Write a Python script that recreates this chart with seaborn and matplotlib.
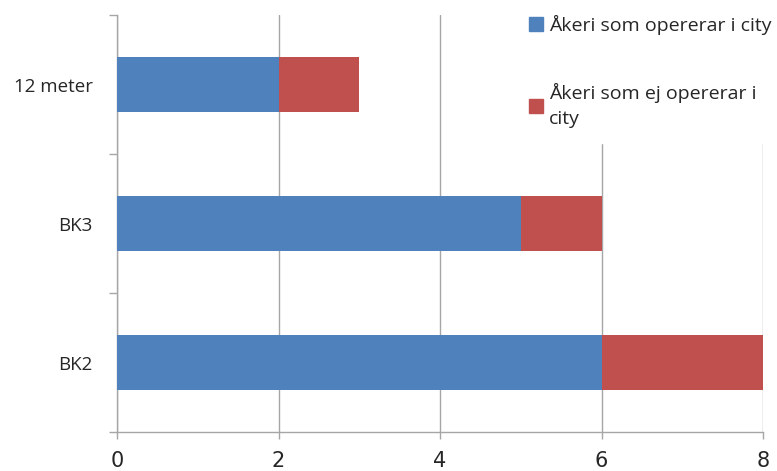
import numpy as np
import pandas as pd
import seaborn as sns
import matplotlib.pyplot as plt
from matplotlib.patches import Patch

# data
categories = ["12 meter", "BK3", "BK2"]
city = [2, 5, 6]
not_city = [1, 1, 2]
series_names = ["Åkeri som opererar i city", "Åkeri som ej opererar i\ncity"]
xticks = [0, 2, 4, 6, 8]

blue = "#4F81BD"
red = "#C0504D"
grey = "#A6A6A6"

df = pd.DataFrame({"cat": categories, "city": city, "not_city": not_city})
df["total"] = df["city"] + df["not_city"]

sns.set_style("white")
plt.rcParams["font.family"] = ["Open Sans", "DejaVu Sans"]

fig = plt.figure(figsize=(7.77, 4.71), dpi=100)
ax = fig.add_axes([117 / 777, 1 - 432 / 471, (763 - 117) / 777, (432 - 15) / 471])

# stacked: draw totals first, then the city part over them
sns.barplot(data=df, x="total", y="cat", color=red, width=0.4, saturation=1,
            linewidth=0, ax=ax, zorder=2)
sns.barplot(data=df, x="city", y="cat", color=blue, width=0.4, saturation=1,
            linewidth=0, ax=ax, zorder=3)

ax.set_xlim(0, 8)
ax.set_ylim(2.5, -0.5)
ax.set_xticks(xticks)
ax.set_xticklabels([str(t) for t in xticks], fontsize=15,
                   family=["Liberation Sans Narrow", "DejaVu Sans"])
ax.set_xlabel("")
ax.set_ylabel("")
ax.tick_params(axis="y", which="major", left=False, pad=14, labelsize=13.5)
ax.set_yticks([-0.5, 0.5, 1.5, 2.5], minor=True)
ax.tick_params(axis="y", which="minor", left=True, length=6, color=grey, width=1)
ax.tick_params(axis="x", bottom=True, length=5, color=grey, width=1, pad=9, direction="out")

ax.xaxis.grid(True, color=grey, linewidth=1)
ax.set_axisbelow(True)
for s in ["top", "right"]:
    ax.spines[s].set_visible(False)
for s in ["left", "bottom"]:
    ax.spines[s].set_color(grey)
    ax.spines[s].set_linewidth(1)

handles = [Patch(color=blue), Patch(color=red)]
leg = fig.legend(handles, series_names, loc="upper left",
                 bbox_to_anchor=(514 / 777, 1.0), fontsize=14,
                 frameon=True, facecolor="white", edgecolor="white",
                 framealpha=1, fancybox=False, handlelength=0.75, handleheight=0.75,
                 handletextpad=0.3, labelspacing=2.5, borderpad=0.75, borderaxespad=0)
leg.get_texts()[1].set_linespacing(1.5)
leg.set_zorder(5)

fig.savefig("out.png", dpi=100)
